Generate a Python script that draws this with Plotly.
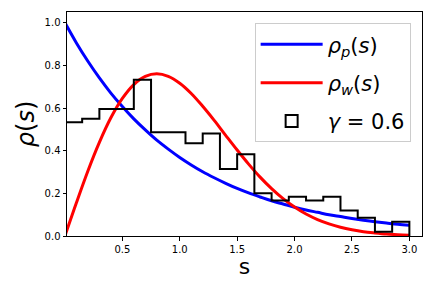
import plotly.graph_objects as go

# Curve samples
s_vals = [0.0, 0.1, 0.2, 0.3, 0.4, 0.5, 0.6, 0.7, 0.8, 0.9, 1.0, 1.1, 1.2, 1.3, 1.4, 1.5,
          1.6, 1.7, 1.8, 1.9, 2.0, 2.1, 2.2, 2.3, 2.4, 2.5, 2.6, 2.7, 2.8, 2.9, 3.0]
rho_p = [1.0, 0.905, 0.819, 0.741, 0.670, 0.607, 0.549, 0.497, 0.449, 0.407, 0.368, 0.333,
         0.301, 0.273, 0.247, 0.223, 0.202, 0.183, 0.165, 0.150, 0.135, 0.122, 0.111, 0.100,
         0.091, 0.082, 0.074, 0.067, 0.061, 0.055, 0.050]
rho_w = [0.0, 0.156, 0.305, 0.439, 0.554, 0.645, 0.710, 0.748, 0.760, 0.748, 0.716, 0.668,
         0.608, 0.542, 0.472, 0.403, 0.337, 0.276, 0.222, 0.175, 0.136, 0.103, 0.077, 0.057,
         0.041, 0.029, 0.020, 0.014, 0.009, 0.006, 0.004]

# Histogram (gamma = 0.6)
bin_edges = [0.0, 0.15, 0.3, 0.45, 0.6, 0.75, 0.9, 1.05, 1.2, 1.35, 1.5, 1.65, 1.8, 1.95,
             2.1, 2.25, 2.4, 2.55, 2.7, 2.85, 3.0]
hist_vals = [0.533, 0.55, 0.595, 0.595, 0.733, 0.486, 0.486, 0.435, 0.481, 0.314, 0.383,
             0.2, 0.166, 0.184, 0.166, 0.184, 0.119, 0.086, 0.02, 0.067]

x_ticks = [0.5, 1.0, 1.5, 2.0, 2.5, 3.0]
y_ticks = [0.0, 0.2, 0.4, 0.6, 0.8, 1.0]

# step outline
hx = [bin_edges[0]] + bin_edges + [bin_edges[-1]]
hy = [0.0] + hist_vals + [hist_vals[-1], 0.0]

fig = go.Figure()
fig.add_trace(go.Scatter(x=s_vals, y=rho_p, mode="lines", line=dict(color="#0000ff", width=3, shape="spline"),
                         name="<i>ρ</i><sub><i>p</i></sub>(<i>s</i>)", legendgroup="a"))
fig.add_trace(go.Scatter(x=s_vals, y=rho_w, mode="lines", line=dict(color="#ff0000", width=3, shape="spline"),
                         name="<i>ρ</i><sub><i>w</i></sub>(<i>s</i>)", legendgroup="b"))
fig.add_trace(go.Scatter(x=hx, y=hy, mode="lines", line=dict(color="black", width=2, shape="hv"),
                         showlegend=False, name="hist", legendgroup="c"))
fig.add_trace(go.Bar(x=[None], y=[None], marker=dict(color="white", line=dict(color="black", width=2)),
                     name="<i>γ</i> = 0.6", legendgroup="c"))

fig.update_layout(
    width=432, height=288,
    margin=dict(l=67, r=10, t=12, b=52),
    paper_bgcolor="white", plot_bgcolor="white",
    font=dict(family="DejaVu Sans", color="black", size=10),
    showlegend=True,
    legend=dict(x=0.968, y=0.95, xanchor="right", yanchor="top",
                font=dict(size=21, family="DejaVu Sans"), itemwidth=62, tracegroupgap=8,
                bgcolor="white", bordercolor="#cccccc", borderwidth=1),
    xaxis=dict(range=[0.018, 3.11], tickvals=x_ticks, ticktext=["0.5", "1.0", "1.5", "2.0", "2.5", "3.0"],
               showgrid=False, zeroline=False, showline=True, linecolor="black", linewidth=1, mirror=True,
               ticks="outside", ticklen=3.5, tickcolor="black", automargin=False,
               title=dict(text="s", font=dict(size=22), standoff=2)),
    yaxis=dict(range=[0, 1.05], tickvals=y_ticks, ticktext=["0.0", "0.2", "0.4", "0.6", "0.8", "1.0"],
               showgrid=False, zeroline=False, showline=True, linecolor="black", linewidth=1, mirror=True,
               ticks="outside", ticklen=3.5, tickcolor="black", automargin=False),
    annotations=[dict(text="<i>ρ</i>(<i>s</i>)", xref="paper", yref="paper", x=-0.115, y=0.5,
                      xanchor="center", yanchor="middle", textangle=-90, showarrow=False,
                      font=dict(size=24, family="DejaVu Sans"))],
)

fig.write_html("out.html", post_script="document.body.style.margin='0';",
               config={"displayModeBar": False})
